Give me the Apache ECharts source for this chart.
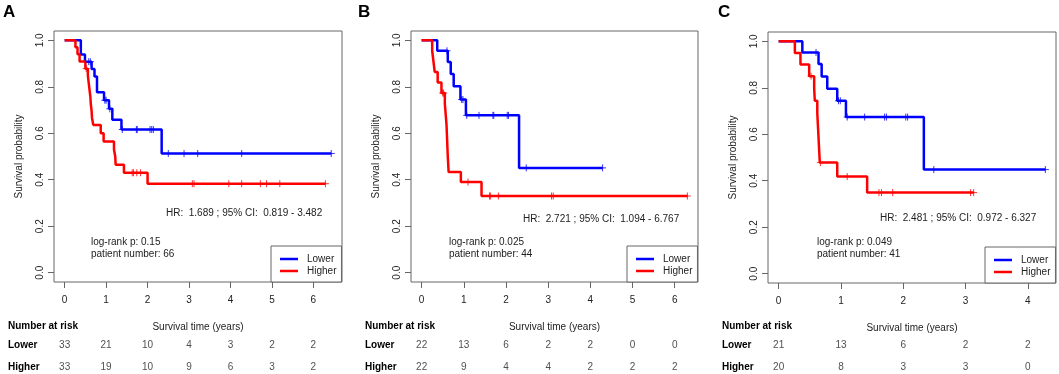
<!DOCTYPE html>
<html>
<head>
<meta charset="utf-8">
<script src="https://cdn.jsdelivr.net/npm/echarts@6/dist/echarts.min.js"></script>
<style>
  html, body { margin: 0; padding: 0; background: #fff; }
  #chart { width: 1059px; height: 374px; }
</style>
</head>
<body>
<div id="chart"></div>
<script>
// ---- data ----
const panelLetters = ['A', 'B', 'C'];
const timeTicksAB = [0, 1, 2, 3, 4, 5, 6];
const timeTicksC = [0, 1, 2, 3, 4];
const probTicks = [0, 0.2, 0.4, 0.6, 0.8, 1.0];
const riskGroups = ['Higher', 'Lower'];

// panel A
const aLowerTimes = [0, 0.39, 0.49, 0.65, 0.72, 0.78, 0.95, 1.07, 1.15, 1.37, 2.34];
const aLowerSurv = [1, 0.939, 0.908, 0.877, 0.844, 0.776, 0.742, 0.705, 0.658, 0.616, 0.513];
const aLowerCensor = [0.58, 0.62, 0.97, 1.0, 1.09, 1.39, 1.73, 1.75, 2.06, 2.10, 2.14, 2.50, 2.88, 3.21, 4.27, 6.43];
const aHigherTimes = [0, 0.26, 0.31, 0.36, 0.50, 0.56, 0.58, 0.60, 0.62, 0.63, 0.65, 0.66, 0.69, 0.87, 0.94, 1.19, 1.22, 1.23, 1.43, 2.0];
const aHigherSurv = [1, 0.97, 0.94, 0.909, 0.878, 0.848, 0.817, 0.787, 0.757, 0.726, 0.696, 0.666, 0.636, 0.600, 0.565, 0.53, 0.50, 0.465, 0.43, 0.383];
const aHigherCensor = [0.52, 1.63, 1.66, 1.74, 1.83, 3.08, 3.12, 3.96, 4.27, 4.72, 4.87, 5.19, 6.29];
const aRiskLower = [33, 21, 10, 4, 3, 2, 2];
const aRiskHigher = [33, 19, 10, 9, 6, 3, 2];
const aStats = ['1.689', '0.819', '3.482', '0.15', '66'];

// panel B
const bLowerTimes = [0, 0.37, 0.62, 0.69, 0.76, 0.92, 1.05, 2.31];
const bLowerSurv = [1, 0.955, 0.907, 0.855, 0.802, 0.745, 0.677, 0.451];
const bLowerCensor = [0.60, 0.95, 0.98, 1.07, 1.36, 1.69, 1.71, 2.03, 2.06, 2.48, 4.29];
const bHigherTimes = [0, 0.25, 0.28, 0.31, 0.38, 0.47, 0.55, 0.57, 0.59, 0.60, 0.61, 0.62, 0.64, 0.93, 1.42];
const bHigherSurv = [1, 0.955, 0.909, 0.864, 0.818, 0.773, 0.727, 0.682, 0.636, 0.591, 0.545, 0.5, 0.433, 0.39, 0.33];
const bHigherCensor = [0.50, 0.52, 1.10, 1.61, 1.63, 1.82, 3.08, 3.12, 6.30];
const bRiskLower = [22, 13, 6, 2, 2, 0, 0];
const bRiskHigher = [22, 9, 4, 4, 2, 2, 2];
const bStats = ['2.721', '1.094', '6.767', '0.025', '44'];

// panel C
const cLowerTimes = [0, 0.38, 0.64, 0.69, 0.78, 0.94, 1.08, 2.33];
const cLowerSurv = [1, 0.952, 0.902, 0.849, 0.796, 0.744, 0.674, 0.448];
const cLowerCensor = [0.60, 0.96, 0.99, 1.10, 1.38, 1.70, 1.73, 2.04, 2.07, 2.49, 4.28];
const cHigherTimes = [0, 0.26, 0.35, 0.49, 0.57, 0.58, 0.62, 0.63, 0.64, 0.65, 0.66, 0.94, 1.42];
const cHigherSurv = [1, 0.95, 0.90, 0.85, 0.797, 0.744, 0.691, 0.638, 0.585, 0.532, 0.478, 0.418, 0.349];
const cHigherCensor = [0.52, 0.67, 1.10, 1.61, 1.65, 1.83, 3.08, 3.13];
const cRiskLower = [21, 13, 6, 2, 2];
const cRiskHigher = [20, 8, 3, 3, 0];
const cStats = ['2.481', '0.972', '6.327', '0.049', '41'];

// ---- layout ----
const FONT = '"Liberation Sans", Arial, sans-serif';
const BOX = '#666';
const TXT = '#222';
const BLUE = '#0000ff';
const RED = '#ff0000';
const CROSS = 'path://M5,0L5,10M0,5L10,5';

const panels = [
  { left: 54, right: 342, top: 31, bottom: 282, xmin: -0.257, xmax: 6.69, ticks: timeTicksAB, letterX: 3, hrY: 213, lrY: 242, lrX: 91,
    lower: [aLowerTimes, aLowerSurv, aLowerCensor], higher: [aHigherTimes, aHigherSurv, aHigherCensor],
    risk: [aRiskHigher, aRiskLower], stats: aStats },
  { left: 411, right: 698, top: 31, bottom: 282, xmin: -0.252, xmax: 6.552, ticks: timeTicksAB, letterX: 358, hrY: 219, lrY: 242, lrX: 449,
    lower: [bLowerTimes, bLowerSurv, bLowerCensor], higher: [bHigherTimes, bHigherSurv, bHigherCensor],
    risk: [bRiskHigher, bRiskLower], stats: bStats },
  { left: 768, right: 1056, top: 32, bottom: 283, xmin: -0.171, xmax: 4.451, ticks: timeTicksC, letterX: 718, hrY: 218, lrY: 242, lrX: 817,
    lower: [cLowerTimes, cLowerSurv, cLowerCensor], higher: [cHigherTimes, cHigherSurv, cHigherCensor],
    risk: [cRiskHigher, cRiskLower], stats: cStats }
];

function stepData(times, surv, censor) {
  const d = times.map((t, i) => [t, surv[i]]);
  const end = Math.max(...censor);
  if (end > times[times.length - 1]) d.push([end, surv[surv.length - 1]]);
  return d;
}

function survAt(times, surv, t) {
  let s = surv[0];
  for (let i = 0; i < times.length; i++) if (times[i] <= t) s = surv[i];
  return s;
}

const grid = [], xAxis = [], yAxis = [], series = [], legend = [], graphic = [];

panels.forEach((p, i) => {
  const w = p.right - p.left;
  const plotIdx = i * 2, riskIdx = i * 2 + 1;
  grid.push({ left: p.left, top: p.top, width: w, height: p.bottom - p.top, show: true,
    borderColor: BOX, borderWidth: 1, backgroundColor: 'transparent' });
  // risk table rows: Lower at y=345, Higher at y=367
  grid.push({ left: p.left, top: 345, width: w, height: 22 });

  xAxis.push({
    type: 'value', gridIndex: plotIdx, min: p.xmin, max: p.xmax,
    axisLine: { show: false, onZero: false },
    axisTick: { show: true, customValues: p.ticks, length: 6, lineStyle: { color: BOX } },
    axisLabel: { customValues: p.ticks, margin: 13, fontSize: 10, fontFamily: FONT, color: TXT },
    splitLine: { show: false },
    name: 'Survival time (years)', nameLocation: 'middle', nameGap: 40,
    nameTextStyle: { fontSize: 10, fontFamily: FONT, color: TXT }
  });
  xAxis.push({ type: 'value', gridIndex: riskIdx, min: p.xmin, max: p.xmax, show: false });

  yAxis.push({
    type: 'value', gridIndex: plotIdx, min: -0.04, max: 1.04,
    axisLine: { show: false, onZero: false },
    axisTick: { show: true, customValues: probTicks, length: 6, lineStyle: { color: BOX } },
    axisLabel: { customValues: probTicks, rotate: 90, margin: 9, fontSize: 10, fontFamily: FONT, color: TXT,
      formatter: v => v.toFixed(1) },
    splitLine: { show: false },
    name: 'Survival probability', nameLocation: 'middle', nameGap: 30,
    nameTextStyle: { fontSize: 10, fontFamily: FONT, color: TXT }
  });
  yAxis.push({
    type: 'value', gridIndex: riskIdx, min: 0, max: 1,
    axisLine: { show: false, onZero: false }, axisTick: { show: false }, splitLine: { show: false },
    axisLabel: { customValues: [0, 1], showMinLabel: true, showMaxLabel: true,
      formatter: v => riskGroups[Math.round(v)],
      align: 'left', margin: 46, fontSize: 10, fontWeight: 'bold', fontFamily: FONT, color: '#000' }
  });

  [['Lower', p.lower, BLUE], ['Higher', p.higher, RED]].forEach(([name, g, color]) => {
    series.push({
      name, type: 'line', step: 'end', xAxisIndex: plotIdx, yAxisIndex: plotIdx,
      data: stepData(g[0], g[1], g[2]), showSymbol: false, symbol: 'none',
      lineStyle: { color, width: 2.5 }, itemStyle: { color }, silent: true, z: 3
    });
    series.push({
      name: name + ' censored', type: 'scatter', xAxisIndex: plotIdx, yAxisIndex: plotIdx,
      data: g[2].map(t => [t, survAt(g[0], g[1], t)]),
      symbol: CROSS, symbolSize: 7,
      itemStyle: { color: 'transparent', borderColor: color, borderWidth: 1 }, silent: true, z: 4
    });
  });

  riskGroups.forEach((grp, gi) => {
    series.push({
      name: 'risk ' + grp, type: 'scatter', xAxisIndex: riskIdx, yAxisIndex: riskIdx,
      data: p.ticks.map((t, k) => [t, gi, p.risk[gi][k]]),
      symbolSize: 1, itemStyle: { color: 'transparent' }, silent: true,
      label: { show: true, position: 'inside', formatter: d => String(d.value[2]),
        fontSize: 10, fontFamily: FONT, color: TXT }
    });
  });

  legend.push({
    data: ['Lower', 'Higher'], orient: 'vertical', left: p.right - 71, top: p.bottom - 36,
    icon: 'rect', itemWidth: 18, itemHeight: 2.5, itemGap: 0,
    padding: [7, 5, 5, 9], borderColor: BOX, borderWidth: 1, backgroundColor: '#fff',
    textStyle: { fontSize: 10, fontFamily: FONT, color: TXT, lineHeight: 12, padding: [0, 0, 0, 4] },
    selectedMode: false
  });

  const s = p.stats;
  const txt = (text, x, y, extra) => graphic.push({
    type: 'text', x, y, silent: true,
    style: Object.assign({ text, fontSize: 10, fontFamily: FONT, fill: TXT,
      align: 'left', textAlign: 'left', verticalAlign: 'middle', textVerticalAlign: 'middle' }, extra || {})
  });
  txt(panelLetters[i], p.letterX, 12, { fontSize: 17, fontWeight: 'bold', fill: '#000' });
  txt('HR:  ' + s[0] + ' ; 95% CI:  ' + s[1] + ' - ' + s[2], p.left + 112, p.hrY);
  txt('log-rank p: ' + s[3], p.lrX, p.lrY);
  txt('patient number: ' + s[4], p.lrX, p.lrY + 12);
  txt('Number at risk', p.left - 46, 326, { fontWeight: 'bold', fill: '#000' });
});

const chart = echarts.init(document.getElementById('chart'), null, { renderer: 'canvas' });
chart.setOption({
  animation: false,
  backgroundColor: '#fff',
  textStyle: { fontFamily: FONT },
  grid, xAxis, yAxis, series, legend, graphic
});
</script>
</body>
</html>
